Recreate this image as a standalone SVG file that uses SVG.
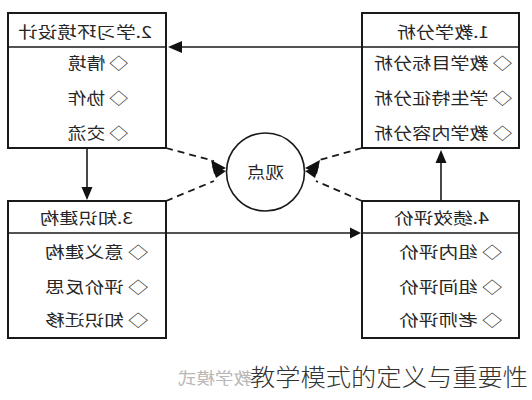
<svg xmlns="http://www.w3.org/2000/svg" width="532" height="400" viewBox="0 0 532 400">
<style>
.box{fill:#fff;stroke:#1a1a1a;stroke-width:2}
.div{stroke:#1a1a1a;stroke-width:1.6}
.ln{stroke:#1a1a1a;stroke-width:1.6;fill:none}
.dash{stroke:#1a1a1a;stroke-width:1.8;fill:none;stroke-dasharray:7 5}
.t{font-family:"Noto Sans CJK SC","Liberation Serif",serif;font-size:16px;fill:#262626}
.ah{fill:#111}
</style>
<rect width="532" height="400" fill="#fff"/>
<g id="connectors">
<line class="ln" x1="362" y1="47" x2="180" y2="47"/>
<polygon class="ah" points="168,47 182,41 182,53"/>
<line class="ln" x1="166" y1="233" x2="352" y2="233"/>
<polygon class="ah" points="361,233 350,227.5 350,238.5"/>
<line class="ln" x1="87" y1="148" x2="87" y2="188"/>
<polygon class="ah" points="87,200 81.5,187 92.5,187"/>
<line class="ln" x1="441" y1="201" x2="441" y2="162"/>
<polygon class="ah" points="441,150 435.5,163 446.5,163"/>
<path class="dash" d="M166,148 L214,161"/>
<path class="dash" d="M166,201 L214,181"/>
<path class="dash" d="M362,148 L316,161"/>
<path class="dash" d="M362,201 L316,181"/>
<polygon class="ah" points="226,168 211,160 214,174"/>
<polygon class="ah" points="226,171 212,166 216,178"/>
<polygon class="ah" points="305,168 320,160 317,174"/>
<polygon class="ah" points="305,171 319,166 315,178"/>
</g>
<g id="node-circle">
<circle cx="265.5" cy="172" r="39" fill="#fff" stroke="#1a1a1a" stroke-width="1.6"/>
<text class="t" transform="scale(-1,1)" x="-284" y="178" textLength="37" lengthAdjust="spacingAndGlyphs" font-size="15">观点</text>
</g>
<g id="node-2">
<rect class="box" x="8" y="13" width="158" height="135"/>
<line class="div" x1="8" y1="47" x2="166" y2="47"/>
<g transform="scale(-1,1)">
<text class="t" x="-152" y="38" textLength="134" lengthAdjust="spacingAndGlyphs">2.学习环境设计</text>
<text class="t" x="-128" y="69" textLength="60" lengthAdjust="spacingAndGlyphs">◇ 情境</text>
<text class="t" x="-128" y="104" textLength="60" lengthAdjust="spacingAndGlyphs">◇ 协作</text>
<text class="t" x="-128" y="139" textLength="60" lengthAdjust="spacingAndGlyphs">◇ 交流</text>
</g>
</g>
<g id="node-1">
<rect class="box" x="362" y="13" width="157" height="135"/>
<line class="div" x1="362" y1="47" x2="519" y2="47"/>
<g transform="scale(-1,1)">
<text class="t" x="-489" y="38" textLength="92" lengthAdjust="spacingAndGlyphs">1.教学分析</text>
<text class="t" x="-512" y="69" textLength="138" lengthAdjust="spacingAndGlyphs">◇ 教学目标分析</text>
<text class="t" x="-512" y="104" textLength="138" lengthAdjust="spacingAndGlyphs">◇ 学生特征分析</text>
<text class="t" x="-512" y="139" textLength="138" lengthAdjust="spacingAndGlyphs">◇ 教学内容分析</text>
</g>
</g>
<g id="node-3">
<rect class="box" x="8" y="201" width="158" height="137"/>
<line class="div" x1="8" y1="233" x2="166" y2="233"/>
<g transform="scale(-1,1)">
<text class="t" x="-133" y="224" textLength="93" lengthAdjust="spacingAndGlyphs">3.知识建构</text>
<text class="t" x="-148" y="258" textLength="103" lengthAdjust="spacingAndGlyphs">◇ 意义建构</text>
<text class="t" x="-148" y="293" textLength="103" lengthAdjust="spacingAndGlyphs">◇ 评价反思</text>
<text class="t" x="-148" y="326" textLength="103" lengthAdjust="spacingAndGlyphs">◇ 知识迁移</text>
</g>
</g>
<g id="node-4">
<rect class="box" x="362" y="201" width="157" height="137"/>
<line class="div" x1="362" y1="233" x2="519" y2="233"/>
<g transform="scale(-1,1)">
<text class="t" x="-489" y="224" textLength="95" lengthAdjust="spacingAndGlyphs">4.绩效评价</text>
<text class="t" x="-502" y="258" textLength="103" lengthAdjust="spacingAndGlyphs">◇ 组内评价</text>
<text class="t" x="-502" y="293" textLength="103" lengthAdjust="spacingAndGlyphs">◇ 组间评价</text>
<text class="t" x="-502" y="326" textLength="103" lengthAdjust="spacingAndGlyphs">◇ 老师评价</text>
</g>
</g>
<text transform="scale(-1,1)" x="-252" y="384" textLength="74" lengthAdjust="spacingAndGlyphs" font-family="Noto Sans CJK SC, sans-serif" font-size="16" fill="#b8b8b8">教学模式</text>
<text x="250" y="386" textLength="278" lengthAdjust="spacingAndGlyphs" font-family="Noto Sans CJK SC, sans-serif" font-weight="300" font-size="24" fill="#333">教学模式的定义与重要性</text>
</svg>
